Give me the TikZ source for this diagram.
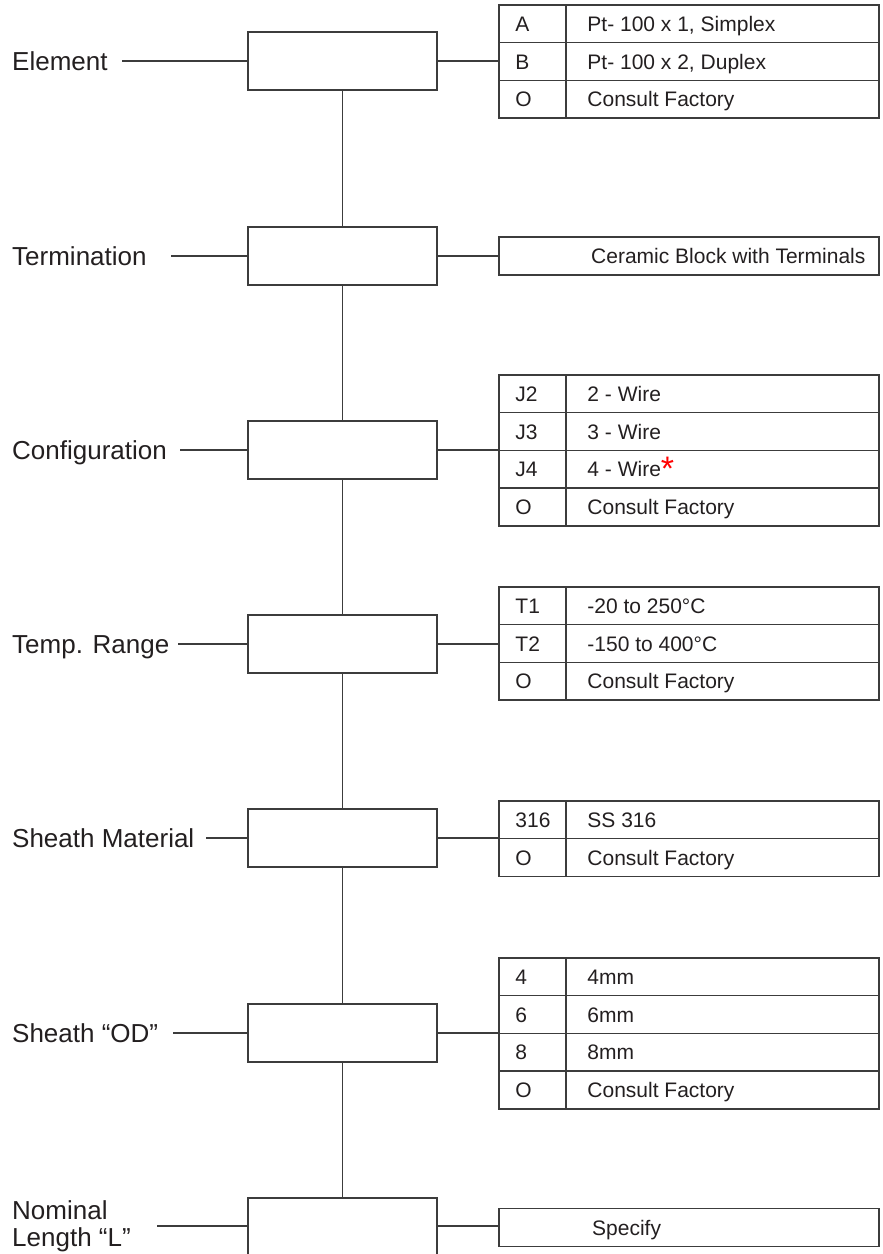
\documentclass[tikz,border=0pt]{standalone}
\usepackage{fontspec}
\setmainfont{Liberation Sans}
\definecolor{ln}{HTML}{3C3C3C}
\definecolor{tx}{HTML}{231F20}
\begin{document}
\begin{tikzpicture}[x=1pt,y=-1pt,
  wire/.style={draw=ln, line width=1.5pt},
  optbox/.style={draw=ln, line width=1.5pt, minimum width=189pt, minimum height=58pt, inner sep=0pt},
  lbl/.style={anchor=west, inner sep=0pt, text height=18.6pt, text depth=0pt, font=\fontsize{26}{28}\selectfont, text=tx},
  cell/.style={draw=ln, line width=1.5pt, minimum height=37.7pt, inner sep=0pt},
  codecell/.style={cell, minimum width=67pt},
  desccell/.style={cell, minimum width=313pt},
  widecell/.style={cell, minimum width=380pt},
  ctext/.style={anchor=west, inner sep=0pt, text height=15pt, text depth=0pt, font=\fontsize{21}{25}\selectfont, text=tx}
]
\useasboundingbox (0,0) rectangle (883,1254);
\clip (0,0) rectangle (883,1254);

\newcommand\optrow[4]{%
  \node[codecell] (#1c) at (532.5,#2+18.85) {};
  \node[desccell] (#1d) at (722.5,#2+18.85) {};
  \node[ctext] (#1ct) at ([xshift=17pt]#1c.west) {#3};
  \node[ctext] (#1dt) at ([xshift=22pt]#1d.west) {#4};
}

% central boxes
\node[optbox] (bEl) at (342.5,61) {};
\node[optbox] (bTe) at (342.5,256) {};
\node[optbox] (bCo) at (342.5,450) {};
\node[optbox] (bTr) at (342.5,644) {};
\node[optbox] (bSm) at (342.5,838) {};
\node[optbox] (bOd) at (342.5,1033) {};
\node[optbox] (bNl) at (342.5,1227) {};

% vertical spine
\draw[wire] (bEl.south) -- (bTe.north);
\draw[wire] (bTe.south) -- (bCo.north);
\draw[wire] (bCo.south) -- (bTr.north);
\draw[wire] (bTr.south) -- (bSm.north);
\draw[wire] (bSm.south) -- (bOd.north);
\draw[wire] (bOd.south) -- (bNl.north);

% labels
\node[lbl] (lEl) at (12,61) {Element};
\node[lbl] (lTe) at (12,256) {Termination};
\node[lbl] (lCo) at (12,450) {Configuration};
\node[lbl] (lTr) at (12,644) {Temp. Range};
\node[lbl] (lSm) at (12,838) {Sheath Material};
\node[lbl] (lOd) at (12,1033) {Sheath “OD”};
\node[lbl, anchor=base west, text height=, text depth=] (lNl1) at (12,1219.5) {Nominal};
\node[lbl, anchor=base west, text height=, text depth=] (lNl2) at (12,1246.5) {Length “L”};

\coordinate (sEl) at (122,61);
\coordinate (sTe) at (171,256);
\coordinate (sCo) at (180,450);
\coordinate (sTr) at (178,644);
\coordinate (sSm) at (206,838);
\coordinate (sOd) at (173,1033);
\coordinate (sNl) at (157,1226);
\draw[wire] (sEl) -- (bEl.west);
\draw[wire] (sTe) -- (bTe.west);
\draw[wire] (sCo) -- (bCo.west);
\draw[wire] (sTr) -- (bTr.west);
\draw[wire] (sSm) -- (bSm.west);
\draw[wire] (sOd) -- (bOd.west);
\draw[wire] (sNl) -- (bNl.west |- sNl);

% Element table
\optrow{elA}{5}{A}{Pt- 100 x 1, Simplex}
\optrow{elB}{42.7}{B}{Pt- 100 x 2, Duplex}
\optrow{elO}{80.4}{O}{Consult Factory}
\draw[wire] (bEl.east) -- (bEl.east -| elBc.west);

% Termination
\node[widecell] (teC) at (689,256) {};
\node[ctext] (teT) at (591,256) {Ceramic Block with Terminals};
\draw[wire] (bTe.east) -- (bTe.east -| teC.west);

% Configuration table
\optrow{coA}{375}{J2}{2 - Wire}
\optrow{coB}{412.7}{J3}{3 - Wire}
\optrow{coC}{450.4}{J4}{4 - Wire\textcolor{red}{\raisebox{-4pt}{\fontsize{34}{34}\selectfont *}}}
\optrow{coO}{488.1}{O}{Consult Factory}
\draw[wire] (bCo.east) -- (bCo.east -| coCc.west);

% Temp range table
\optrow{trA}{587}{T1}{-20 to 250°C}
\optrow{trB}{624.7}{T2}{-150 to 400°C}
\optrow{trO}{662.4}{O}{Consult Factory}
\draw[wire] (bTr.east) -- (bTr.east -| trBc.west);

% Sheath material table
\optrow{smA}{801}{316}{SS 316}
\optrow{smO}{838.7}{O}{Consult Factory}
\draw[wire] (bSm.east) -- (bSm.east -| smOc.west);

% Sheath OD table
\optrow{odA}{958}{4}{4mm}
\optrow{odB}{995.7}{6}{6mm}
\optrow{odC}{1033.4}{8}{8mm}
\optrow{odO}{1071.1}{O}{Consult Factory}
\draw[wire] (bOd.east) -- (bOd.east -| odCc.west);

% Nominal length
\node[widecell] (nlC) at (689,1227.5) {};
\node[ctext] (nlT) at (592,1227.5) {Specify};
\draw[wire] (bNl.east |- sNl) -- (bNl.east |- sNl -| nlC.west);
\end{tikzpicture}
\end{document}
